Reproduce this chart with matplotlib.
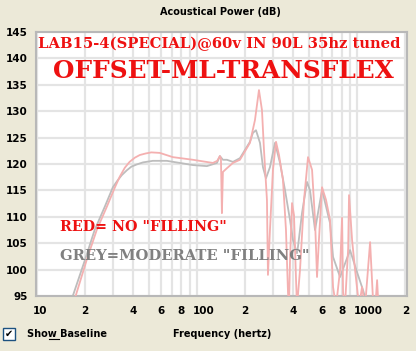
import numpy as np
import matplotlib
matplotlib.use('Agg')
import matplotlib.pyplot as plt
import matplotlib.transforms as mtransforms
from matplotlib.patches import Rectangle

# No filling (red) response
red_hz = [16.0, 17.5, 20.5, 23.7, 27.4, 30.7, 33.0, 35.5, 38.0, 41.0,
          44.0, 48.0, 52.0, 58.7, 70.8, 94.4, 125.9, 134.0, 139.2, 141.3,
          143.3, 145.4, 154.0, 167.9, 185.7, 214.4, 230.4, 244.1, 254.9, 262.3,
          273.8, 277.8, 285.9, 298.5, 311.9, 325.6, 344.7, 359.9, 370.6, 376.0,
          381.4, 392.6, 403.9, 416.0, 421.7, 440.3, 466.5, 494.1, 523.6, 546.5,
          562.3, 578.0, 604.3, 640.0, 678.0, 708.0, 739.0, 783.0, 806.0, 818.0,
          840.0, 880.0, 891.0, 931.0, 972.0, 1030.0, 1074.0, 1122.0, 1206.0, 1259.0,
          1300.0, 1334.0, 1360.0]
red_db = [93, 95.0, 101.8, 107.5, 111.9, 115.5, 117.6, 119.3, 120.4, 121.2,
          121.7, 122.0, 122.2, 122.1, 121.3, 120.8, 120.2, 120.6, 121.5, 121.1,
          110.7, 118.5, 119.2, 120.2, 120.8, 124.0, 128.3, 134.0, 130.2, 122.7,
          113.2, 99.0, 107.5, 118.9, 124.2, 121.7, 117.0, 107.5, 95.6, 93,
          101.8, 112.6, 110.3, 98.0, 93, 99.9, 113.2, 121.3, 118.9, 109.4,
          98.6, 105.6, 115.6, 113.2, 109.4, 96.7, 93, 99.9, 109.8, 95.6,
          93, 104.0, 114.1, 105.6, 99.9, 93, 96.7, 93, 105.2, 94.0,
          93, 98.0, 93]

# Moderate filling (grey) response
grey_hz = [15.5, 16.8, 20.0, 23.0, 26.6, 29.9, 32.0, 34.0, 36.5, 39.0,
           42.0, 46.0, 53.1, 64.9, 78.3, 94.4, 115.5, 133.4, 139.2, 145.4,
           154.0, 167.9, 185.7, 214.4, 223.9, 233.9, 247.7, 258.5, 270.0, 285.9,
           307.3, 330.3, 354.8, 381.4, 398.1, 421.7, 427.6, 453.2, 487.0, 508.6,
           546.5, 604.3, 678.0, 708.0, 783.0, 904.0, 990.0, 1090.0, 1122.0, 1150.0]
grey_db = [93, 95.0, 101.8, 107.5, 111.9, 115.6, 116.9, 117.9, 118.8, 119.5,
           119.9, 120.3, 120.6, 120.6, 120.2, 119.8, 119.6, 120.2, 121.5, 120.8,
           120.8, 120.4, 121.1, 124.2, 125.9, 126.4, 124.0, 119.4, 117.3, 119.4,
           124.0, 120.2, 115.1, 109.4, 105.6, 103.1, 104.3, 110.7, 116.6, 115.0,
           107.5, 115.1, 108.8, 102.4, 98.6, 103.7, 99.9, 96.1, 94.8, 93]

xtick_pos = [10, 20, 40, 60, 80, 100, 200, 400, 600, 800, 1000, 2000]
xtick_lab = ['10', '2', '4', '6', '8', '100', '2', '4', '6', '8', '1000', '2']
ytick_pos = list(range(95, 146, 5))

bg = '#ECE9D8'
fig = plt.figure(figsize=(4.16, 3.51), dpi=100, facecolor=bg)
ax = fig.add_axes([36/416, 1-296/351, 371/416, 264/351])
ax.set_facecolor('white')

ax.set_xscale('log')
ax.set_xlim(9.9, 2050)
ax.set_ylim(95, 145)

# grid: every 10/100/1000 step and every 5 dB
grid_x = [d * m for d in (10, 100, 1000) for m in range(1, 10) if d * m <= 2000]
for gx in grid_x:
    ax.axvline(gx, color='#E4E4E4', lw=1.6, zorder=0)
for gy in ytick_pos:
    ax.axhline(gy, color='#E4E4E4', lw=1.6, zorder=0)

ax.plot(grey_hz, grey_db, color='#BDBDBD', lw=1.3, zorder=2)
ax.plot(red_hz, red_db, color='#F4B0B0', lw=1.3, zorder=3)

# x labels: first digit sits on the grid line
ax.set_xticks([])
ax.xaxis.set_minor_locator(matplotlib.ticker.NullLocator())
shift = mtransforms.ScaledTranslation(-3.6/100, -10/100, fig.dpi_scale_trans)
for pos, lab in zip(xtick_pos, xtick_lab):
    ax.text(pos, 0, lab, transform=ax.get_xaxis_transform() + shift,
            ha='left', va='top', fontsize=7.5, fontweight='bold', clip_on=False)

ax.set_yticks(ytick_pos)
ax.tick_params(length=0, labelsize=7.5)
ax.tick_params(axis='y', pad=6)
for lab in ax.get_yticklabels():
    lab.set_fontweight('bold')

for s in ax.spines.values():
    s.set_color('#B8B8B8')
    s.set_linewidth(1.5)

# annotations inside the plot
serif = 'DejaVu Serif'
ax.text(0.493, 0.955, 'LAB15-4(SPECIAL)@60v IN 90L 35hz tuned', transform=ax.transAxes,
        ha='center', va='center', color='#EE1111', fontsize=10.6, fontweight='bold', family=serif)
ax.text(0.505, 0.852, 'OFFSET-ML-TRANSFLEX', transform=ax.transAxes,
        ha='center', va='center', color='#EE1111', fontsize=17.8, fontweight='bold', family=serif)
ax.text(0.065, 0.261, 'RED= NO "FILLING"', transform=ax.transAxes,
        ha='left', va='center', color='#EE1111', fontsize=10.3, fontweight='bold', family=serif)
ax.text(0.065, 0.152, 'GREY=MODERATE "FILLING"', transform=ax.transAxes,
        ha='left', va='center', color='#808080', fontsize=10.6, fontweight='bold', family=serif)

# window texts
fig.text(220/416, 1-12/351, 'Acoustical Power (dB)', ha='center', va='center',
         fontsize=7, fontweight='bold')
fig.text(222/416, 1-334/351, 'Frequency (hertz)', ha='center', va='center',
         fontsize=7, fontweight='bold')
fig.text(27/416, 1-334/351, 'Show Baseline', ha='left', va='center',
         fontsize=7, fontweight='bold')
fig.add_artist(plt.Line2D([49/416, 59/416], [1-339/351, 1-339/351], color='black', lw=0.8))
fig.add_artist(Rectangle((3/416, 1-340/351), 12/416, 12/351, facecolor='white',
                         edgecolor='#1C5180', lw=1.0))
fig.text(9/416, 1-334/351, '\u2714', ha='center', va='center', fontsize=7, color='black')

fig.savefig('out.png', dpi=100, facecolor=bg)
